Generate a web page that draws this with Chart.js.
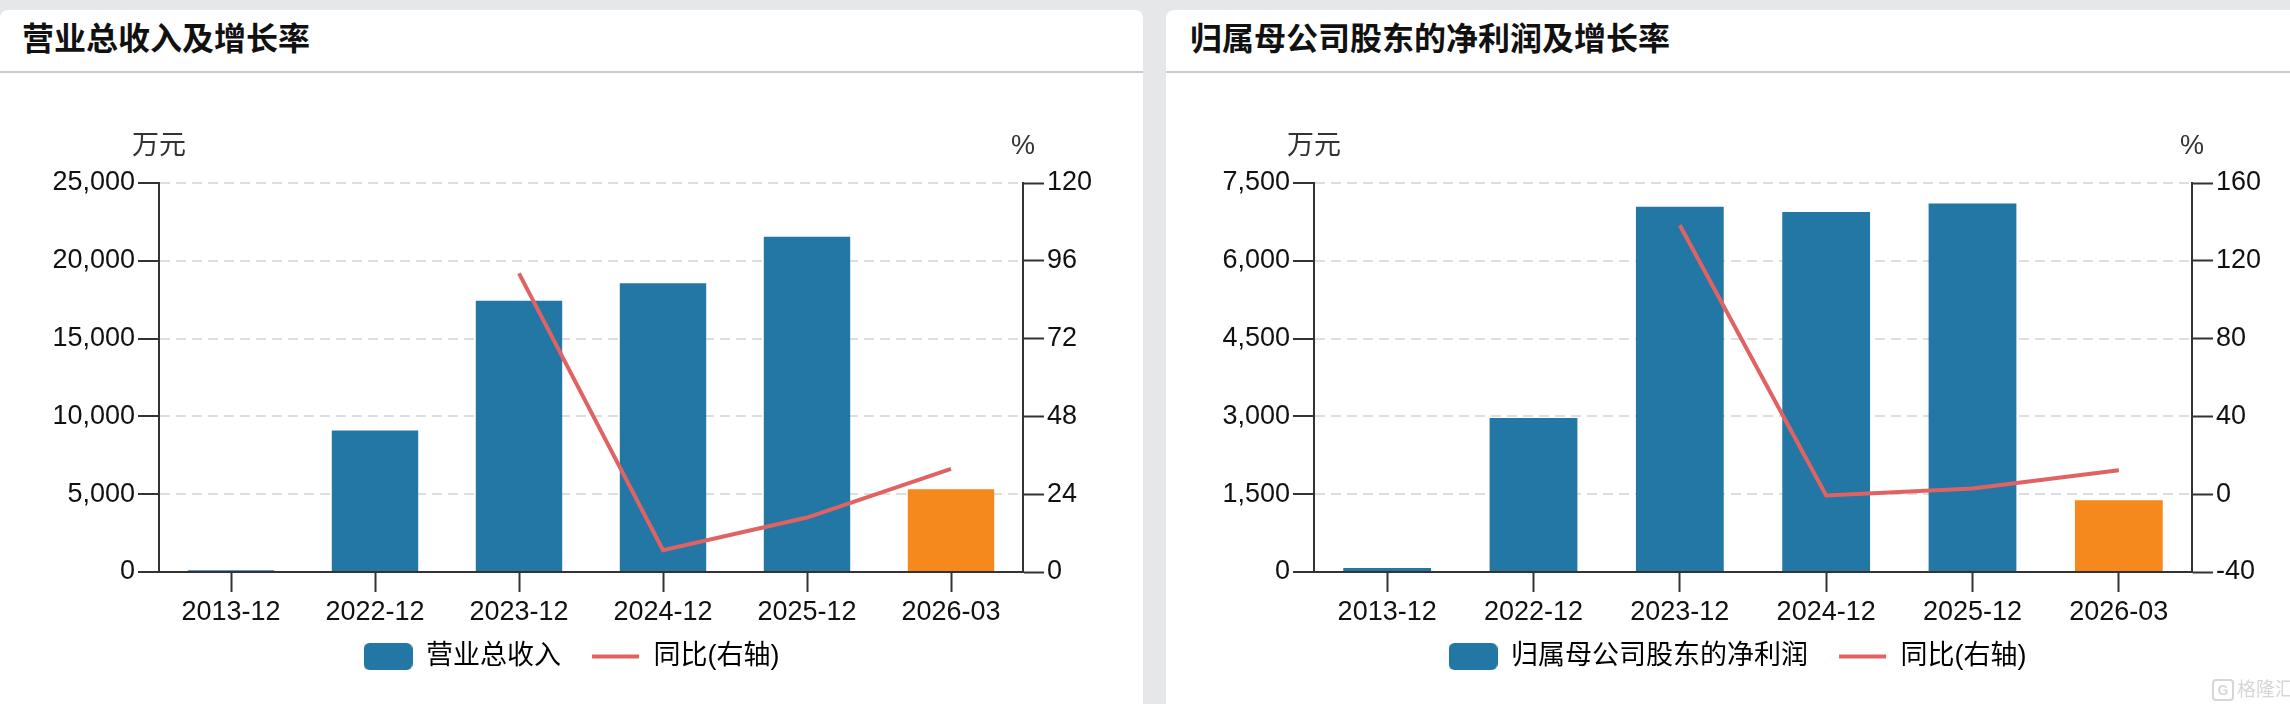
<!DOCTYPE html>
<html><head><meta charset="utf-8">
<script src="https://cdn.jsdelivr.net/npm/chart.js@4/dist/chart.umd.min.js"></script>
<style>
html,body{margin:0;padding:0;background:#e6e7e9;width:2290px;height:704px;overflow:hidden;position:relative;}
.panel{position:absolute;top:10px;width:1143px;height:720px;background:#fff;border-radius:8px;overflow:hidden;}
.title{position:absolute;left:22px;top:3px;height:62px;line-height:62px;font:bold 32px "Liberation Sans","Noto Sans CJK SC",sans-serif;color:#111;white-space:nowrap;}
.sep{position:absolute;left:0;right:0;top:61px;height:2px;background:#cbcbcd;}
.panel canvas{position:absolute;left:0;top:64px;}
.wm{position:absolute;left:2212px;top:674px;font:19px "Noto Sans CJK SC",sans-serif;color:#d6d6d6;white-space:nowrap;}
.wm b{display:inline-block;border:2px solid #d6d6d6;border-radius:4px;font:bold 14px "Liberation Sans",sans-serif;width:18px;height:18px;line-height:18px;text-align:center;margin-right:3px;vertical-align:1px;}
</style></head>
<body>
<div class="panel" style="left:0px;">
  <div class="title">营业总收入及增长率</div><div class="sep"></div>
  <canvas id="c1" width="1143" height="630"></canvas>
</div>
<div class="panel" style="left:1166px;">
  <div class="title" style="left:24px;">归属母公司股东的净利润及增长率</div><div class="sep"></div>
  <canvas id="c2" width="1143" height="630"></canvas>
</div>
<div class="wm"><b>G</b>格隆汇</div>
<script>
// ---- data ----
const categories = ['2013-12', '2022-12', '2023-12', '2024-12', '2025-12', '2026-03'];
const revenue = [120, 9100, 17430, 18550, 21540, 5320];
const revenueYoY = [null, null, 92.1, 6.7, 16.8, 31.8];
const netProfit = [75, 2970, 7040, 6940, 7105, 1385];
const netProfitYoY = [null, null, 138.3, -0.7, 2.9, 12.3];
const revenueTicks = [0, 5000, 10000, 15000, 20000, 25000];
const revenueYoYTicks = [0, 24, 48, 72, 96, 120];
const profitTicks = [0, 1500, 3000, 4500, 6000, 7500];
const profitYoYTicks = [-40, 0, 40, 80, 120, 160];
const forecastCategory = '2026-03';

// ---- styles ----
const BLUE = '#2377a4', ORANGE = '#f5891d', RED = '#e06262', AXIS = '#333333';
const FONT = '"Liberation Sans", "Noto Sans CJK SC", sans-serif';
Chart.defaults.font.family = FONT;
Chart.defaults.color = '#111';

function legendIcon(kind, color) {
  const c = document.createElement('canvas');
  c.width = 49; c.height = 27;
  const g = c.getContext('2d');
  g.fillStyle = color;
  if (kind === 'box') {
    g.beginPath();
    if (g.roundRect) g.roundRect(0, 0, 49, 27, 6); else g.rect(0, 0, 49, 27);
    g.fill();
  } else {
    g.fillRect(1, 11.5, 47, 4);
  }
  return c;
}

const unitPlugin = {
  id: 'units',
  afterLayout(chart) {
    // let the x tick labels draw below the (short) axis box without clipping
    const x = chart.scales.x;
    x.bottom = x.top + 80;
  },
  afterDraw(chart, args, opts) {
    const ctx = chart.ctx;
    ctx.save();
    ctx.font = '27px ' + FONT;
    ctx.fillStyle = '#333';
    ctx.textAlign = 'center';
    ctx.textBaseline = 'middle';
    ctx.fillText(opts.left, chart.scales.y.right, 72.5);
    ctx.fillText(opts.right, chart.scales.y1.left, 72.5);
    ctx.restore();
  }
};

function makeChart(id, barLabel, bars, yoy, leftTicks, rightTicks, leftW, rightW) {
  const barColors = categories.map(c => c === forecastCategory ? ORANGE : BLUE);
  const icons = [legendIcon('box', BLUE), legendIcon('line', RED)];
  return new Chart(document.getElementById(id), {
    type: 'bar',
    data: {
      labels: categories,
      datasets: [
        { type: 'bar', label: barLabel, data: bars, yAxisID: 'y', order: 1,
          backgroundColor: barColors, borderWidth: 0,
          barPercentage: 0.6, categoryPercentage: 1.0 },
        { type: 'line', label: '同比(右轴)', data: yoy, yAxisID: 'y1', order: 0,
          borderColor: RED, backgroundColor: RED, borderWidth: 4, pointRadius: 0,
          tension: 0, fill: false }
      ]
    },
    options: {
      responsive: false, animation: false,
      layout: { padding: { top: 109, bottom: 24, left: 0, right: 0 } },
      plugins: {
        tooltip: { enabled: false },
        units: { left: '万元', right: '%' },
        legend: {
          position: 'bottom',
          labels: {
            usePointStyle: true, pointStyleWidth: 49, padding: 30,
            font: { size: 27, family: FONT }, color: '#222',
            generateLabels: (chart) => chart.data.datasets.map((ds, i) => ({
              text: ds.label, pointStyle: icons[i], fillStyle: 'transparent',
              strokeStyle: 'transparent', lineWidth: 0, hidden: false, datasetIndex: i
            }))
          }
        }
      },
      scales: {
        x: {
          grid: { offset: false, drawOnChartArea: false, tickColor: AXIS, tickLength: 20, tickWidth: 2 },
          border: { color: AXIS, width: 2 },
          ticks: { font: { size: 27 }, color: '#111', padding: 4, maxRotation: 0, autoSkip: false },
          afterFit: (s) => { s.height = 41; }
        },
        y: {
          position: 'left',
          min: leftTicks[0], max: leftTicks[leftTicks.length - 1],
          afterBuildTicks: (s) => { s.ticks = leftTicks.map(v => ({ value: v })); },
          afterFit: (s) => { s.width = leftW; },
          grid: { color: '#dedede', lineWidth: 2, tickColor: AXIS, tickLength: 21, tickWidth: 2, tickBorderDash: [] },
          border: { display: true, color: AXIS, width: 2, dash: [10, 6] },
          ticks: { font: { size: 27 }, color: '#111', padding: 3,
                   callback: (v) => Number(v).toLocaleString('en-US') }
        },
        y1: {
          position: 'right',
          min: rightTicks[0], max: rightTicks[rightTicks.length - 1],
          afterBuildTicks: (s) => { s.ticks = rightTicks.map(v => ({ value: v })); },
          afterFit: (s) => { s.width = rightW; },
          grid: { drawOnChartArea: false, tickColor: AXIS, tickLength: 21, tickWidth: 2 },
          border: { display: true, color: AXIS, width: 2 },
          ticks: { font: { size: 27 }, color: '#111', padding: 3 }
        }
      }
    },
    plugins: [unitPlugin]
  });
}

makeChart('c1', '营业总收入', revenue, revenueYoY, revenueTicks, revenueYoYTicks, 159, 120);
makeChart('c2', '归属母公司股东的净利润', netProfit, netProfitYoY, profitTicks, profitYoYTicks, 148, 117);
</script>
</body></html>
